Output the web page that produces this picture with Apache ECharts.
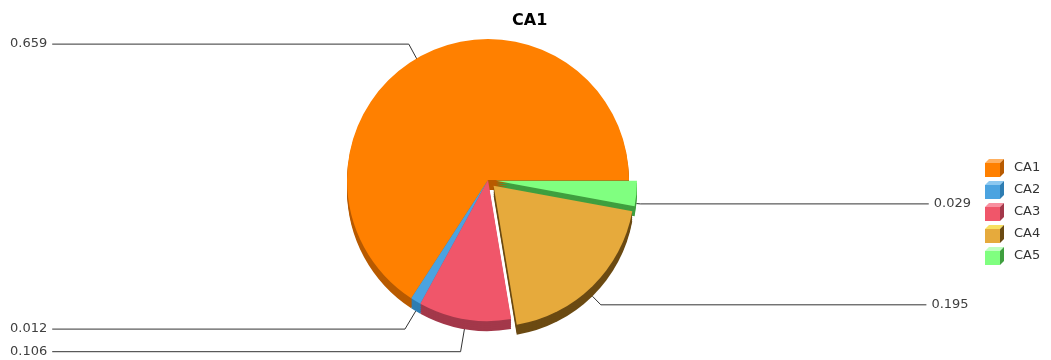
<!DOCTYPE html>
<html>
<head>
<meta charset="utf-8">
<script src="https://cdn.jsdelivr.net/npm/echarts@6/dist/echarts.min.js"></script>
<style>
  html, body { margin: 0; padding: 0; background: #ffffff; }
  #chart { width: 1051px; height: 360px; }
</style>
</head>
<body>
<div id="chart"></div>
<script>
// Share of each category
const categories = ['CA1', 'CA2', 'CA3', 'CA4', 'CA5'];
const values = [0.659, 0.012, 0.106, 0.195, 0.029];
// Slices pulled out of the pie
const exploded = [false, false, false, true, true];

// Face and side colours of the 3D slices
const faceColors = ['#ff8000', '#4ba3e0', '#f0566a', '#e6aa3c', '#80ff80'];
const sideColors = ['#b85a00', '#2e7db2', '#a3384a', '#6b4a12', '#3f9f3f'];
const topColors  = ['#ffb060', '#8cc8f0', '#f890a0', '#f8e060', '#c0ffc0'];
// First segment length of each label's leader line
const leaderLengths = [25, 21, 23, 12, 4];

const CX = 488, CY = 180, R = 141;
const sideSteps = [10, 8, 6, 4, 2];   // depth of the extruded side, bottom layer first

function cubeIcon(i) {
  const svg =
    '<svg xmlns="http://www.w3.org/2000/svg" width="20" height="18" viewBox="0 0 20 18">' +
    '<polygon points="0,4 4,0 19,0 15,4" fill="' + topColors[i] + '"/>' +
    '<polygon points="15,4 19,0 19,14 15,18" fill="' + sideColors[i] + '"/>' +
    '<rect x="0" y="4" width="15" height="14" fill="' + faceColors[i] + '"/>' +
    '</svg>';
  return 'image://data:image/svg+xml;charset=utf-8,' + encodeURIComponent(svg);
}

function pieLayer(offset, colors, withLabels, z) {
  return {
    type: 'pie',
    z: z,
    left: 0, top: 0, width: 973, height: 360,
    center: [CX, CY + offset],
    radius: [0, R],
    startAngle: 0,
    clockwise: false,
    selectedMode: 'multiple',
    selectedOffset: 8,
    emphasis: { disabled: true },
    animation: false,
    label: withLabels ? {
      show: true,
      position: 'outer',
      alignTo: 'edge',
      edgeDistance: 10,
      formatter: p => p.value.toFixed(3),
      fontFamily: 'DejaVu Sans',
      fontSize: 13,
      color: '#404040'
    } : { show: false },
    labelLine: {
      show: withLabels,
      length2: 10,
      lineStyle: { color: '#333333', width: 1 }
    },
    data: categories.map((name, i) => ({
      name: name,
      value: values[i],
      selected: exploded[i],
      itemStyle: { color: colors[i], borderWidth: 0 },
      labelLine: { length: leaderLengths[i] }
    }))
  };
}

const series = sideSteps.map((d, k) => pieLayer(d, sideColors, k === 0, 2));
series.push(pieLayer(0, faceColors, false, 3));

const chart = echarts.init(document.getElementById('chart'), null, { renderer: 'canvas' });
chart.setOption({
  backgroundColor: '#ffffff',
  animation: false,
  title: {
    text: 'CA1',
    left: 507,
    top: 8,
    textStyle: { fontFamily: 'DejaVu Sans', fontWeight: 'bold', fontSize: 16, color: '#000000' }
  },
  legend: {
    orient: 'vertical',
    left: 980,
    top: 154,
    itemWidth: 20,
    itemHeight: 18,
    itemGap: 4,
    selectedMode: false,
    textStyle: { fontFamily: 'DejaVu Sans', fontSize: 13, color: '#333333', padding: [0, 0, 0, 4] },
    data: categories.map((name, i) => ({ name: name, icon: cubeIcon(i) }))
  },
  series: series
});
</script>
</body>
</html>
